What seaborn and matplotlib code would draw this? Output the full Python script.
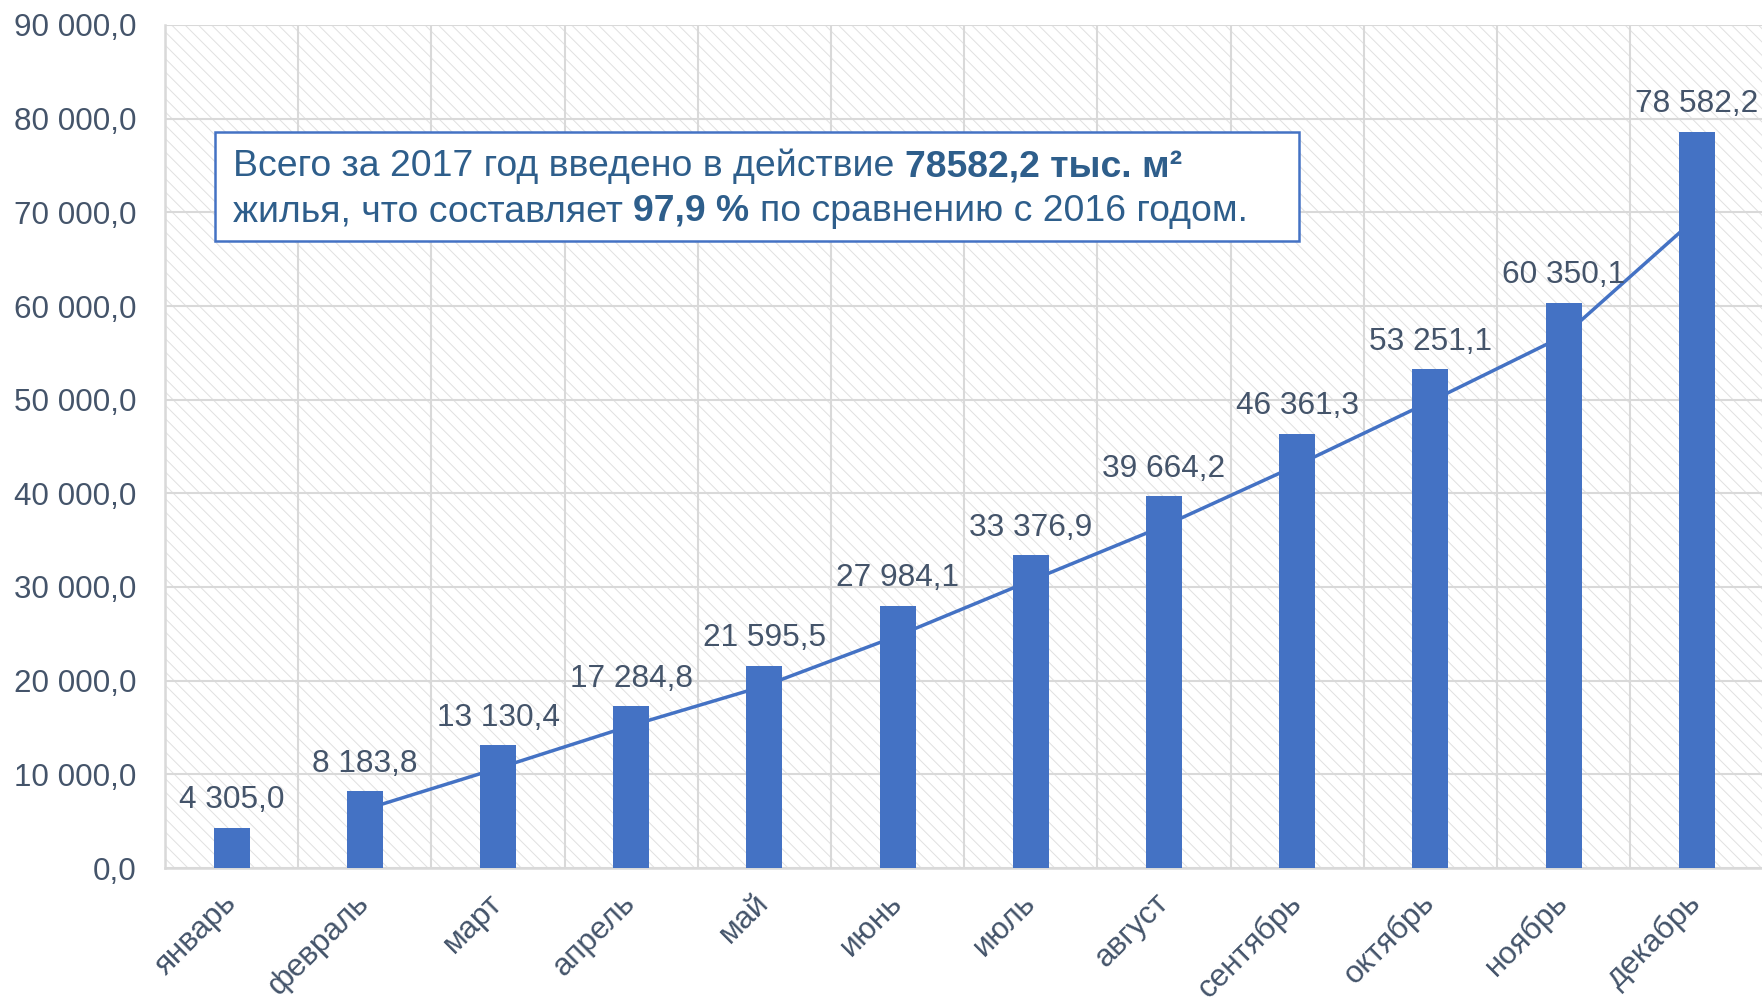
import numpy as np
import pandas as pd
import matplotlib
matplotlib.use("Agg")
import matplotlib.pyplot as plt
import seaborn as sns
from matplotlib.patches import Rectangle

# ---- data ----
months = ["январь", "февраль", "март", "апрель", "май", "июнь",
          "июль", "август", "сентябрь", "октябрь", "ноябрь", "декабрь"]
values = [4305.0, 8183.8, 13130.4, 17284.8, 21595.5, 27984.1,
          33376.9, 39664.2, 46361.3, 53251.1, 60350.1, 78582.2]
y_ticks = [0, 10000, 20000, 30000, 40000, 50000, 60000, 70000, 80000, 90000]
box_line1 = ["Всего за 2017 год введено в действие", "78582,2 тыс. м²"]
box_line2 = ["жилья, что составляет", "97,9 %", "по сравнению с 2016 годом."]


def fmt(v):
    return f"{v:,.1f}".replace(",", " ").replace(".", ",")


sns.set_theme(style="white")
plt.rcParams["font.family"] = ["Liberation Sans", "DejaVu Sans"]
plt.rcParams["hatch.linewidth"] = 0.35

W, H, DPI = 1762, 1002, 200
fig = plt.figure(figsize=(W / DPI, H / DPI), dpi=DPI)
fig.patch.set_facecolor("white")
ax = fig.add_axes([165 / W, 1 - 868 / H, 1598.4 / W, (868 - 25) / H])

# hatched plot area
ax.patch.set_facecolor("white")
ax.patch.set_hatch("\\" * 5)
ax.patch.set_edgecolor("#E0E0E0")

BAR = "#4472C4"
TXT = "#44546A"
GRID = "#D9D9D9"

sns.barplot(x=months, y=values, color=BAR, saturation=1, width=0.27,
            ax=ax, zorder=3, linewidth=0)

# 2-period moving-average trend line (starts at the 2nd month)
idx = np.arange(len(values))
ma = pd.Series(values).rolling(2).mean()
ax.plot(idx[1:], ma.values[1:], color=BAR, lw=1.25, zorder=2.5,
        solid_capstyle="butt", solid_joinstyle="round")

ax.bar_label(ax.containers[0], labels=[fmt(v) for v in values],
             padding=4.5, fontsize=11.4, color=TXT)

ax.set_xlim(-0.5, 11.5)
ax.set_ylim(0, 90000)
ax.set_yticks(y_ticks)
ax.set_yticklabels([fmt(v) for v in y_ticks], fontsize=11.3, color=TXT)
ax.set_xticks(idx)
ax.set_xticklabels(months, rotation=45, ha="right", va="center",
                   rotation_mode="anchor", fontsize=11.3, color=TXT)
ax.set_xticks(np.arange(-0.5, 12, 1), minor=True)
ax.tick_params(axis="y", length=0, pad=10.4)
ax.tick_params(axis="x", which="both", length=0, pad=11)
ax.yaxis.grid(True, color=GRID, lw=0.75)
ax.xaxis.grid(True, which="minor", color=GRID, lw=0.75)
ax.xaxis.grid(False, which="major")
ax.set_axisbelow(True)
for s in ["top", "right"]:
    ax.spines[s].set_visible(False)
for s in ["left", "bottom"]:
    ax.spines[s].set_color(GRID)
    ax.spines[s].set_linewidth(0.9)
ax.set_xlabel("")
ax.set_ylabel("")

# text box
BOXC = "#2E5E8B"
fs = 13.45
ax.add_patch(Rectangle((215 / W, 1 - 240.7 / H), (1299 - 215) / W, 109 / H,
                       transform=fig.transFigure, facecolor="white",
                       edgecolor=BAR, lw=0.9, zorder=5, clip_on=False))
sp = 0.278 * fs


def line(x, y, parts, bold_idx):
    t = ax.text(x, y, parts[0], transform=fig.transFigure, fontsize=fs,
                color=BOXC, va="baseline", ha="left", zorder=6,
                fontweight="bold" if 0 in bold_idx else "normal")
    for i, p in enumerate(parts[1:], start=1):
        t = ax.annotate(p, xy=(1, 0), xycoords=t, xytext=(sp, 0),
                        textcoords="offset points", va="bottom", ha="left",
                        fontsize=fs, color=BOXC, zorder=6,
                        fontweight="bold" if i in bold_idx else "normal")


line(233 / W, 1 - 176 / H, box_line1, {1})
line(233 / W, 1 - 221 / H, box_line2, {1})

fig.savefig("out.png", dpi=DPI)
